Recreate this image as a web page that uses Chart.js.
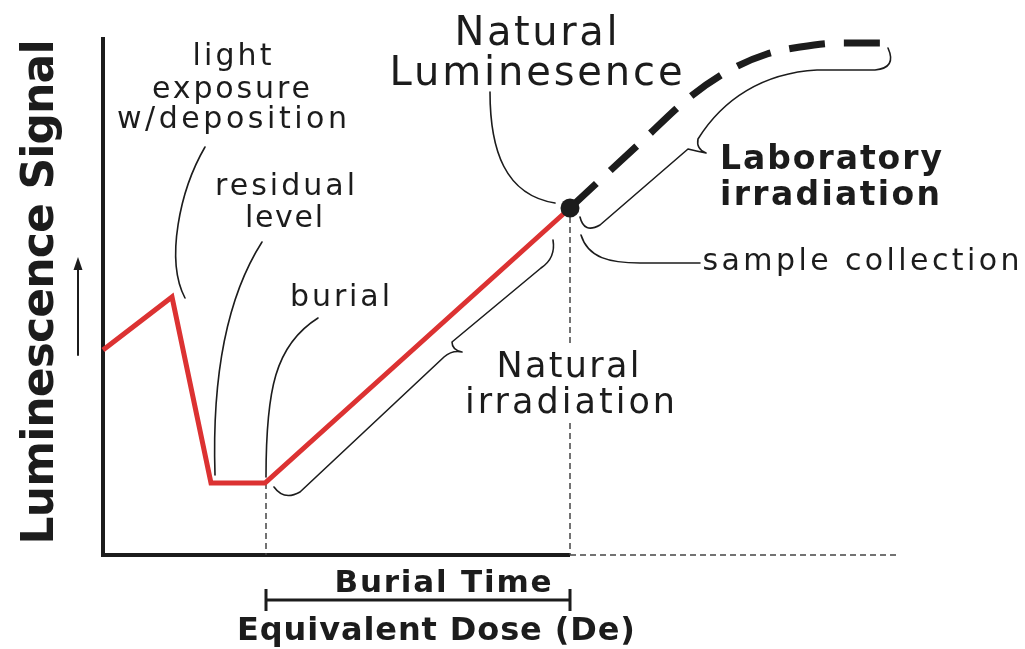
<!DOCTYPE html>
<html>
<head>
<meta charset="utf-8">
<script src="https://cdn.jsdelivr.net/npm/chart.js@4"></script>
<style>
  html, body { margin: 0; padding: 0; background: #fff; }
</style>
</head>
<body>
<canvas id="chart" width="1025" height="649"></canvas>
<script>
// signal vs dose, in arbitrary diagram units
const naturalDose = [0, 69, 108, 162, 467];
const naturalSignal = [205, 258, 72, 72, 347];
const labDose = [467, 537, 587, 627, 664, 697, 737, 787];
const labSignal = [347, 412, 458, 485, 501, 508, 512, 512];
const doseRange = [0, 800];
const signalRange = [0, 518];

const ink = '#1c1c1c';
const REG = '"DejaVu Sans", sans-serif';

function spaced(ctx, text, cx, y, width, font) {
    ctx.font = font;
    ctx.letterSpacing = '0px';
    const w = ctx.measureText(text).width;
    const n = [...text].length;
    const ls = n > 1 ? (width - w) / (n - 1) : 0;
    ctx.letterSpacing = ls + 'px';
    ctx.textAlign = 'left';
    ctx.textBaseline = 'alphabetic';
    ctx.fillText(text, cx - width / 2, y);
    ctx.letterSpacing = '0px';
}

const diagram = {
    id: 'diagram',
    beforeDatasetsDraw(chart) {
        const ctx = chart.ctx;
        const sx = chart.scales.x, sy = chart.scales.y;
        const X = v => sx.getPixelForValue(v);
        const Y = v => sy.getPixelForValue(v);
        ctx.save();
        ctx.strokeStyle = ink;
        ctx.lineCap = 'butt';

        // axes
        ctx.lineWidth = 4;
        ctx.beginPath();
        ctx.moveTo(X(0), Y(signalRange[1]));
        ctx.lineTo(X(0), Y(0));
        ctx.lineTo(X(467), Y(0));
        ctx.stroke();

        // dashed guides
        ctx.lineWidth = 1.5;
        ctx.strokeStyle = '#444';
        ctx.setLineDash([6, 4]);
        ctx.beginPath();
        ctx.moveTo(X(467), Y(0));
        ctx.lineTo(X(797), Y(0));
        ctx.moveTo(X(163), Y(72));
        ctx.lineTo(X(163), Y(0));
        ctx.moveTo(X(467), Y(338));
        ctx.lineTo(X(467), Y(210));
        ctx.moveTo(X(467), Y(132));
        ctx.lineTo(X(467), Y(0));
        ctx.stroke();
        ctx.setLineDash([]);
        ctx.restore();
    },
    afterDatasetsDraw(chart) {
        const ctx = chart.ctx;
        const sx = chart.scales.x, sy = chart.scales.y;
        const X = v => sx.getPixelForValue(v);
        const Y = v => sy.getPixelForValue(v);
        ctx.save();
        ctx.strokeStyle = ink;
        ctx.fillStyle = ink;
        ctx.lineWidth = 1.6;
        ctx.lineJoin = 'round';
        ctx.lineCap = 'round';

        // leader lines
        ctx.beginPath();
        ctx.moveTo(X(102), Y(408));
        ctx.bezierCurveTo(X(77), Y(365), X(62), Y(295), X(82), Y(257));
        ctx.moveTo(X(159), Y(313));
        ctx.bezierCurveTo(X(122), Y(255), X(109), Y(175), X(112), Y(80));
        ctx.moveTo(X(215), Y(237));
        ctx.bezierCurveTo(X(172), Y(210), X(163), Y(165), X(163), Y(78));
        ctx.moveTo(X(387), Y(463));
        ctx.bezierCurveTo(X(387), Y(405), X(402), Y(360), X(452), Y(352));
        ctx.moveTo(X(478), Y(320));
        ctx.bezierCurveTo(X(485), Y(297), X(507), Y(292), X(537), Y(292));
        ctx.lineTo(X(597), Y(292));
        ctx.stroke();

        // brace: natural irradiation
        ctx.beginPath();
        ctx.moveTo(X(171), Y(68));
        ctx.quadraticCurveTo(X(181), Y(54), X(197), Y(63));
        ctx.lineTo(X(341), Y(198));
        ctx.quadraticCurveTo(X(349), Y(205), X(359), Y(203));
        ctx.quadraticCurveTo(X(349), Y(205), X(349), Y(213));
        ctx.lineTo(X(438), Y(287));
        ctx.quadraticCurveTo(X(453), Y(297), X(450), Y(315));
        ctx.stroke();

        // brace: laboratory irradiation
        ctx.beginPath();
        ctx.moveTo(X(477), Y(338));
        ctx.quadraticCurveTo(X(481), Y(321), X(497), Y(330));
        ctx.lineTo(X(585), Y(406));
        ctx.quadraticCurveTo(X(593), Y(404), X(603), Y(402));
        ctx.quadraticCurveTo(X(593), Y(406), X(595), Y(416));
        ctx.bezierCurveTo(X(620), Y(456), X(660), Y(482), X(714), Y(485));
        ctx.lineTo(X(772), Y(485));
        ctx.quadraticCurveTo(X(794), Y(487), X(785), Y(507));
        ctx.stroke();

        // small arrow next to the y label
        ctx.lineWidth = 2;
        ctx.beginPath();
        ctx.moveTo(X(-25), Y(200));
        ctx.lineTo(X(-25), Y(288));
        ctx.stroke();
        ctx.beginPath();
        ctx.moveTo(X(-25), Y(298));
        ctx.lineTo(X(-29.5), Y(285));
        ctx.lineTo(X(-20.5), Y(285));
        ctx.closePath();
        ctx.fill();

        // burial time bracket
        ctx.lineWidth = 3;
        ctx.lineCap = 'butt';
        ctx.beginPath();
        ctx.moveTo(X(163), Y(-45));
        ctx.lineTo(X(467), Y(-45));
        ctx.moveTo(X(163), Y(-34));
        ctx.lineTo(X(163), Y(-56));
        ctx.moveTo(X(467), Y(-34));
        ctx.lineTo(X(467), Y(-56));
        ctx.stroke();

        // labels
        const r30 = '30px ' + REG;
        spaced(ctx, 'light', X(129), Y(490), 79, r30);
        spaced(ctx, 'exposure', X(128), Y(457), 158, r30);
        spaced(ctx, 'w/deposition', X(129), Y(427), 230, r30);
        spaced(ctx, 'residual', X(182), Y(360), 140, r30);
        spaced(ctx, 'level', X(181), Y(328), 78, r30);
        spaced(ctx, 'burial', X(237), Y(249), 100, r30);
        spaced(ctx, 'Natural', X(433), Y(510), 163, '40px ' + REG);
        spaced(ctx, 'Luminesence', X(433), Y(470), 293, '40px ' + REG);
        spaced(ctx, 'Laboratory', X(728), Y(386), 222, 'bold 33px ' + REG);
        spaced(ctx, 'irradiation', X(727), Y(350), 220, 'bold 33px ' + REG);
        spaced(ctx, 'sample collection', X(758), Y(285), 317, r30);
        spaced(ctx, 'Natural', X(465), Y(178), 143, '35px ' + REG);
        spaced(ctx, 'irradiation', X(467), Y(142), 210, '35px ' + REG);
        spaced(ctx, 'Burial Time', X(340), Y(-37), 217, 'bold 31px ' + REG);
        spaced(ctx, 'Equivalent Dose (De)', X(333), Y(-85), 398, 'bold 32px ' + REG);

        ctx.translate(X(-50), Y(263));
        ctx.rotate(-Math.PI / 2);
        spaced(ctx, 'Luminescence Signal', 0, 0, 505, 'bold 44px ' + REG);
        ctx.restore();
    }
};

const toPoints = (xs, ys) => xs.map((x, i) => ({ x: x, y: ys[i] }));

new Chart(document.getElementById('chart'), {
    type: 'line',
    data: {
        datasets: [{
            label: 'Laboratory irradiation',
            data: toPoints(labDose, labSignal),
            borderColor: ink,
            borderWidth: 7,
            borderDash: [36, 19],
            borderCapStyle: 'butt',
            cubicInterpolationMode: 'monotone',
            pointRadius: ctx => ctx.dataIndex === 0 ? 9.5 : 0,
            pointBackgroundColor: ink,
            pointBorderWidth: 0,
            order: 0,
            clip: false
        }, {
            label: 'Natural signal',
            data: toPoints(naturalDose, naturalSignal),
            borderColor: '#dc3232',
            borderWidth: 5,
            borderJoinStyle: 'miter',
            tension: 0,
            pointRadius: 0,
            order: 1,
            clip: false
        }]
    },
    options: {
        responsive: false,
        animation: false,
        devicePixelRatio: 1,
        layout: { padding: { left: 103, right: 122, top: 37, bottom: 94 } },
        plugins: {
            legend: { display: false },
            tooltip: { enabled: false }
        },
        scales: {
            x: { type: 'linear', min: doseRange[0], max: doseRange[1], display: false },
            y: { type: 'linear', min: signalRange[0], max: signalRange[1], display: false }
        }
    },
    plugins: [diagram]
});
</script>
</body>
</html>
